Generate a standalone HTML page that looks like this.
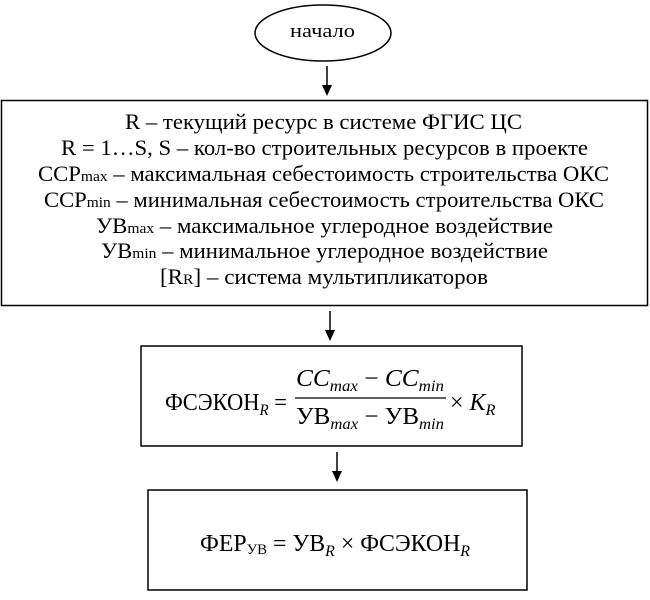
<!DOCTYPE html>
<html><head><meta charset="utf-8"><style>body{margin:0;background:#fff}svg{display:block}</style></head>
<body>
<svg width="650" height="600" viewBox="0 0 650 600" xmlns="http://www.w3.org/2000/svg" font-family="Liberation Serif, serif" fill="#000">
<ellipse cx="323" cy="33" rx="68" ry="28" fill="none" stroke="#000" stroke-width="1.5"/>
<text x="290" y="37" font-size="19" textLength="65" lengthAdjust="spacingAndGlyphs">начало</text>
<line x1="327" y1="66" x2="327" y2="86" stroke="#000" stroke-width="1.5"/>
<path d="M322,85 L332,85 L327,96 Z"/>
<rect x="1.5" y="100.5" width="646" height="205" fill="none" stroke="#000" stroke-width="1.5"/>
<g font-size="22">
<text x="125" y="129" textLength="397" lengthAdjust="spacingAndGlyphs">R – текущий ресурс в системе ФГИС ЦС</text>
<text x="61" y="155" textLength="527" lengthAdjust="spacingAndGlyphs">R = 1…S, S – кол-во строительных ресурсов в проекте</text>
<text x="38" y="181" textLength="571" lengthAdjust="spacingAndGlyphs">ССР<tspan font-size="15">max</tspan> – максимальная себестоимость строительства ОКС</text>
<text x="44" y="207" textLength="560" lengthAdjust="spacingAndGlyphs">ССР<tspan font-size="15">min</tspan> – минимальная себестоимость строительства ОКС</text>
<text x="96" y="233" textLength="457" lengthAdjust="spacingAndGlyphs">УВ<tspan font-size="15">max</tspan> – максимальное углеродное воздействие</text>
<text x="101" y="258" textLength="447" lengthAdjust="spacingAndGlyphs">УВ<tspan font-size="15">min</tspan> – минимальное углеродное воздействие</text>
<text x="160" y="284" textLength="328" lengthAdjust="spacingAndGlyphs">[R<tspan font-size="15">R</tspan>] – система мультипликаторов</text>
</g>
<line x1="330" y1="311" x2="330" y2="331" stroke="#000" stroke-width="1.5"/>
<path d="M325,330 L335,330 L330,341 Z"/>
<rect x="141" y="346" width="381" height="100" fill="none" stroke="#000" stroke-width="1.5"/>
<g font-size="24">
<text x="165" y="410" textLength="122" lengthAdjust="spacingAndGlyphs">ФСЭКОН<tspan font-size="16" font-style="italic" dy="5">R</tspan><tspan dy="-5"> =</tspan></text>
<text x="296" y="386" font-style="italic" textLength="148" lengthAdjust="spacingAndGlyphs">CC<tspan font-size="16" dy="5">max</tspan><tspan dy="-5" font-style="normal"> − </tspan>CC<tspan font-size="16" dy="5">min</tspan></text>
<line x1="295" y1="398" x2="446" y2="398" stroke="#000" stroke-width="1.3"/>
<text x="296" y="424" textLength="148" lengthAdjust="spacingAndGlyphs">УВ<tspan font-size="16" font-style="italic" dy="5">max</tspan><tspan dy="-5"> − УВ</tspan><tspan font-size="16" font-style="italic" dy="5">min</tspan></text>
<text x="450" y="410">× <tspan font-style="italic">K</tspan><tspan font-size="16" font-style="italic" dy="5">R</tspan></text>
</g>
<line x1="337" y1="452" x2="337" y2="472" stroke="#000" stroke-width="1.5"/>
<path d="M332,471 L342,471 L337,482 Z"/>
<rect x="148" y="490" width="379" height="100" fill="none" stroke="#000" stroke-width="1.5"/>
<text x="200" y="551" font-size="24" textLength="270" lengthAdjust="spacingAndGlyphs">ФЕР<tspan font-size="15" dy="3">УВ</tspan><tspan dy="-3"> = УВ</tspan><tspan font-size="16" font-style="italic" dy="5">R</tspan><tspan dy="-5"> × ФСЭКОН</tspan><tspan font-size="16" font-style="italic" dy="5">R</tspan></text>
</svg>
</body></html>
